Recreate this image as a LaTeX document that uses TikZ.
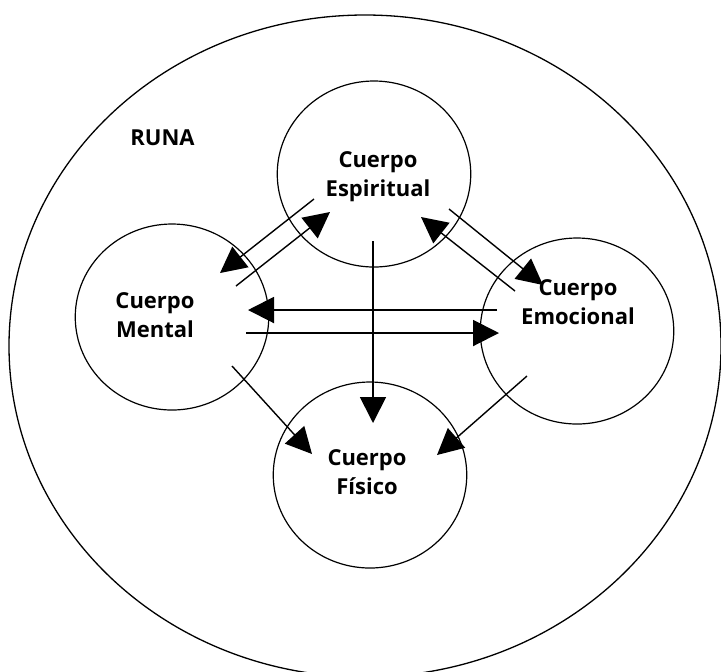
\documentclass[tikz,border=0pt]{standalone}
\usepackage{fontspec}
\setmainfont{Open Sans}
\usepackage{tikz}
\usetikzlibrary{arrows.meta}
\usetikzlibrary{shapes.geometric}

\begin{document}
\begin{tikzpicture}[x=0.5pt,y=-0.5pt,
  body/.style={draw,ellipse,line width=0.6pt,minimum width=96.75pt,minimum height=93pt,inner sep=0pt,outer sep=0pt},
  txt/.style={align=center,font=\fontsize{11}{14.5}\selectfont\bfseries,inner sep=0pt},
  arr/.style={-{Triangle[length=13pt,width=13pt]},line width=0.7pt},
  harr/.style={arr,line width=1pt}]

\useasboundingbox (0,0) rectangle (721,671);
\clip (0,0) rectangle (721,671);
\draw[line width=0.65pt] (365,346) ellipse [x radius=178pt,y radius=165.5pt];

\draw node[txt] at (162.5,138) (runa) {RUNA};

\draw node[body] at (374,174) (esp) {};
\draw node[body] at (172,317) (men) {};
\draw node[body] at (577,331) (emo) {};
\draw node[body] at (370,475) (fis) {};

\draw node[txt] at (378,176.5) (espt) {Cuerpo\\Espiritual};
\draw node[txt] at (155,315) (ment) {Cuerpo\\Mental};
\draw node[txt] at (578,302) (emot) {Cuerpo\\Emocional};
\draw node[txt] at (367,472) (fist) {Cuerpo\\Físico};

\draw[arr] ([shift={(-60,25)}]esp.center) -- ([shift={(48,-44)}]men.center);
\draw[arr] ([shift={(64,-31)}]men.center) -- ([shift={(-44,38)}]esp.center);
\draw[arr] ([shift={(-62,-40)}]emo.center) -- ([shift={(47,43)}]esp.center);
\draw[arr] ([shift={(75,35)}]esp.center) -- ([shift={(-34,-46)}]emo.center);
\draw[arr,line width=0.85pt] ([shift={(-1,67)}]esp.center) -- ([shift={(3,-52)}]fis.center);
\draw[harr] ([shift={(-80,-21)}]emo.center) -- ([shift={(76,-7)}]men.center);
\draw[harr] ([shift={(74,16)}]men.center) -- ([shift={(-78,2)}]emo.center);
\draw[arr] ([shift={(60,49)}]men.center) -- ([shift={(-58,-21)}]fis.center);
\draw[arr] ([shift={(-50,45)}]emo.center) -- ([shift={(67,-20)}]fis.center);

\end{tikzpicture}
\end{document}
